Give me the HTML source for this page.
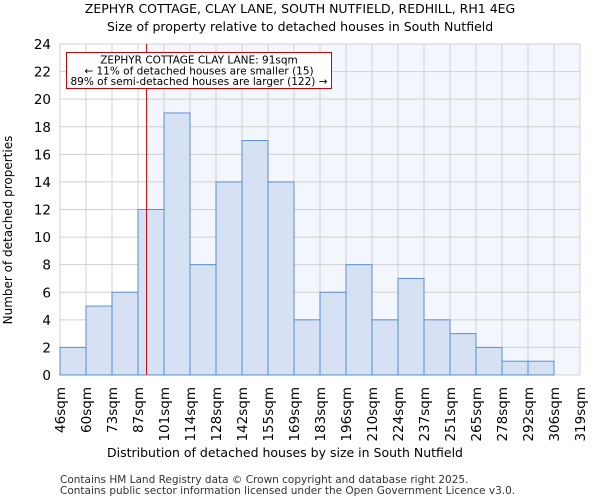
<!DOCTYPE html>
<html><head><meta charset="utf-8"><style>
body{margin:0;background:#fff;font-family:"DejaVu Sans","Liberation Sans",sans-serif;}
svg text{font-family:"DejaVu Sans","Liberation Sans",sans-serif;}
</style></head><body>
<svg id="c" width="600" height="500" xmlns="http://www.w3.org/2000/svg">
<text x="300" y="13" text-anchor="middle" font-size="12.5">ZEPHYR COTTAGE, CLAY LANE, SOUTH NUTFIELD, REDHILL, RH1 4EG</text>
<text x="300" y="31" text-anchor="middle" font-size="12.5">Size of property relative to detached houses in South Nutfield</text>
<g id="plot"></g>
<text x="285" y="457" text-anchor="middle" font-size="12.5">Distribution of detached houses by size in South Nutfield</text>
<text transform="translate(12,230) rotate(-90)" text-anchor="middle" font-size="12">Number of detached properties</text>
<text x="60" y="483" font-size="10.5" fill="#333">Contains HM Land Registry data © Crown copyright and database right 2025.</text>
<text x="60" y="494" font-size="10.5" fill="#333">Contains public sector information licensed under the Open Government Licence v3.0.</text>
</svg>
<script>
const tickLabels=["46sqm","60sqm","73sqm","87sqm","101sqm","114sqm","128sqm","142sqm","155sqm","169sqm","183sqm","196sqm","210sqm","224sqm","237sqm","251sqm","265sqm","278sqm","292sqm","306sqm","319sqm"];
const counts=[2,5,6,12,19,8,14,17,14,4,6,8,4,7,4,3,2,1,1,0];
const yTicks=[0,2,4,6,8,10,12,14,16,18,20,22,24];
const propertyBin=3.33;
const NS="http://www.w3.org/2000/svg";
const x0=60,x1=580,y0=375,y1=44,yMax=24;
const bw=(x1-x0)/counts.length;
const xs=i=>x0+i*bw;
const ys=v=>y0-(v/yMax)*(y0-y1);
const g=document.getElementById('plot');
function mk(t,a){const e=document.createElementNS(NS,t);for(const k in a)e.setAttribute(k,a[k]);g.appendChild(e);return e;}
const mx=xs(propertyBin);
let e=mk('rect',{x:mx,y:y1,width:x1-mx,height:y0-y1,fill:'#f3f6fd'});


yTicks.forEach(v=>{
 let l=mk('line',{x1:x0,x2:x1,y1:ys(v),y2:ys(v),stroke:'#d0d0d0','stroke-width':1});
 
 
 let t=mk('text',{x:x0-9,y:ys(v)+5,'text-anchor':'end','font-size':13.5});
 t.textContent=v;
 
 
});
tickLabels.forEach((s,i)=>{
 let l=mk('line',{x1:xs(i),x2:xs(i),y1:y1,y2:y0,stroke:'#d0d0d0','stroke-width':1});
 
 
 let t=mk('text',{transform:`translate(${xs(i)+5},387) rotate(-90)`,'text-anchor':'end','font-size':13.5});
 t.textContent=s;
 
 
});
counts.forEach((c,i)=>{
 if(c<=0)return;
 let r=mk('rect',{x:xs(i),y:ys(c),width:bw,height:y0-ys(c),fill:'#d6e1f3',stroke:'#5b8fd6','stroke-width':1});
 
 
});
let ml=mk('line',{x1:mx,x2:mx,y1:y1,y2:y0,stroke:'#cc0000','stroke-width':1});


let bx=mk('rect',{x:66.5,y:52.5,width:265,height:36,fill:'#fff',stroke:'#cc0000','stroke-width':1});


["ZEPHYR COTTAGE CLAY LANE: 91sqm","← 11% of detached houses are smaller (15)","89% of semi-detached houses are larger (122) →"].forEach((s,i)=>{
 let t=mk('text',{x:199,y:63.5+i*10.8,'text-anchor':'middle','font-size':10.5});
 t.textContent=s;
 
 
});
</script>
</body></html>
